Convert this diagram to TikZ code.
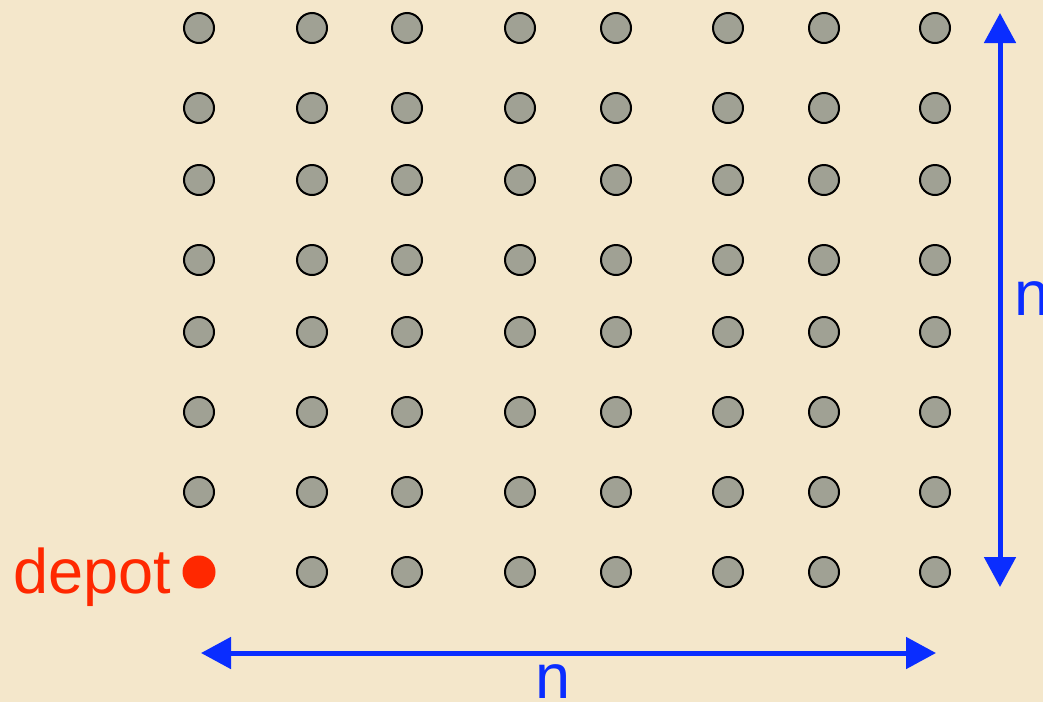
\documentclass[tikz,border=0pt]{standalone}
\usepackage{fontspec}
\setmainfont{Liberation Sans}
\usetikzlibrary{arrows.meta}
\definecolor{bgbeige}{RGB}{244,231,203}
\definecolor{dotgray}{RGB}{160,161,148}
\definecolor{depotred}{RGB}{255,40,0}
\definecolor{arrowblue}{RGB}{10,45,255}
\tikzset{
  customer/.style={circle, draw=black, line width=2pt, fill=dotgray, minimum size=30pt, inner sep=0pt},
  depotdot/.style={circle, fill=depotred, minimum size=33pt, inner sep=0pt},
  dimarrow/.style={draw=arrowblue, line width=5pt, {Triangle[length=30pt,width=31pt]}-{Triangle[length=30pt,width=31pt]}},
  bigtext/.style={font=\fontsize{63}{70}\selectfont, inner sep=0pt}
}
\begin{document}
\begin{tikzpicture}[x=1pt,y=-1pt]
\fill[bgbeige] (0,0) rectangle (1043,702);
\useasboundingbox (0,0) rectangle (1043,702);
\clip (0,0) rectangle (1043,702);
% grid of customers
\foreach \r/\yy in {1/28,2/108,3/180,4/260,5/332,6/412,7/492,8/572}{
  \foreach \c/\xx in {1/199,2/312,3/407,4/520,5/616,6/728,7/824,8/935}{
    \ifnum\r=8 \ifnum\c=1 \else
      \node[customer] (c\r-\c) at (\xx,\yy) {};
    \fi\else
      \node[customer] (c\r-\c) at (\xx,\yy) {};
    \fi
  }
}
\node[depotdot] (depot) at (199,572) {};
\node[bigtext, text=depotred, anchor=base east] (depotlabel) at (171,593) {depot};
% dimension arrows
\coordinate (vtop) at (1000,13);
\coordinate (vbot) at (1000,587);
\coordinate (hleft) at (201,653);
\coordinate (hright) at (936,653);
\draw[dimarrow] (vtop) -- (vbot);
\draw[dimarrow] (hleft) -- (hright);
\node[bigtext, text=arrowblue, anchor=base west] (nright) at (1014,315) {n};
\node[bigtext, text=arrowblue, anchor=base] (nbottom) at (553,698) {n};
\end{tikzpicture}
\end{document}
